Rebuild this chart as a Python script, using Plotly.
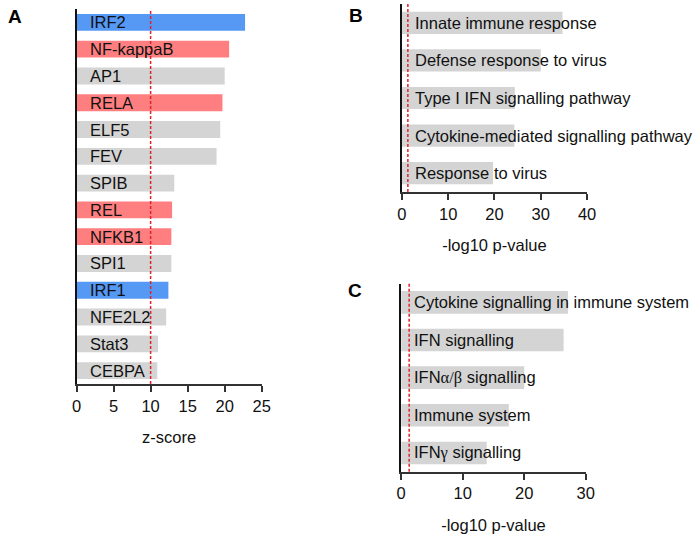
import plotly.graph_objects as go

# ---------------- data ----------------
tf_names = ["IRF2", "NF-kappaB", "AP1", "RELA", "ELF5", "FEV", "SPIB", "REL",
            "NFKB1", "SPI1", "IRF1", "NFE2L2", "Stat3", "CEBPA"]
tf_zscores = [22.75, 20.6, 20.0, 19.7, 19.4, 18.9, 13.2, 12.9, 12.8, 12.8,
              12.4, 12.1, 11.0, 10.9]
tf_groups = ["IRF", "NFkB", "other", "NFkB", "other", "other", "other", "NFkB",
             "NFkB", "other", "IRF", "other", "other", "other"]
z_threshold = 10

go_terms = ["Innate immune response", "Defense response to virus",
            "Type I IFN signalling pathway", "Cytokine-mediated signalling pathway",
            "Response to virus"]
go_values = [34.7, 30.0, 24.4, 24.3, 19.7]

path_terms = ["Cytokine signalling in immune system", "IFN signalling",
              "IFN<span style='font-family:Liberation Serif'>α/β</span> signalling",
              "Immune system",
              "IFN<span style='font-family:Liberation Serif'>γ</span> signalling"]
path_values = [27.1, 26.4, 20.0, 17.5, 13.9]
p_threshold = 1.3

group_colors = {"IRF": "#5599F5", "NFkB": "#FF7F80", "other": "#D4D4D4"}
GRAY = "#D4D4D4"
FONT = "Liberation Sans, Arial, sans-serif"
FS = 16.5
W, H = 696, 535

fig = go.Figure()

fig.add_trace(go.Bar(x=tf_zscores, y=tf_names, orientation="h",
                     marker=dict(color=[group_colors[g] for g in tf_groups], line=dict(width=0)),
                     width=0.63, xaxis="x", yaxis="y", hoverinfo="x+y"))
fig.add_trace(go.Bar(x=go_values, y=go_terms, orientation="h",
                     marker=dict(color=GRAY, line=dict(width=0)),
                     width=0.59, xaxis="x2", yaxis="y2", hoverinfo="x"))
fig.add_trace(go.Bar(x=path_values, y=path_terms, orientation="h",
                     marker=dict(color=GRAY, line=dict(width=0)),
                     width=0.6, xaxis="x3", yaxis="y3", hoverinfo="x"))

def px_x(p):
    return p / W

def px_y(p):
    return 1 - p / H

xcommon = dict(showline=True, linecolor="#333333", linewidth=1.5, ticks="outside",
               ticklen=6, tickwidth=1.5, tickcolor="#333333", showgrid=False,
               zeroline=False, tickfont=dict(family=FONT, size=FS, color="#111111"),
               title_font=dict(family=FONT, size=FS, color="#111111"), title_standoff=18)
ycommon = dict(showline=True, linecolor="#111111", linewidth=1.5, showticklabels=False,
               ticks="", showgrid=False, zeroline=False, type="category")

fig.update_layout(
    xaxis=dict(domain=[px_x(73), px_x(262)], range=[0, 25], dtick=5, anchor="y",
               title_text="z-score", **xcommon),
    yaxis=dict(domain=[px_y(384), px_y(9)], range=[len(tf_names) - 0.5, -0.5],
               anchor="x", categoryorder="array", categoryarray=tf_names, **ycommon),
    xaxis2=dict(domain=[px_x(405), px_x(594)], range=[0, 40], dtick=10, anchor="y2",
                title_text="-log10 p-value", **xcommon),
    yaxis2=dict(domain=[px_y(192), px_y(4)], range=[len(go_terms) - 0.5, -0.5],
                anchor="x2", categoryorder="array", categoryarray=go_terms, **ycommon),
    xaxis3=dict(domain=[px_x(404.3), px_x(592.7)], range=[0, 30], dtick=10, anchor="y3",
                title_text="-log10 p-value", **xcommon),
    yaxis3=dict(domain=[px_y(471.8), px_y(283.5)], range=[len(path_terms) - 0.5, -0.5],
                anchor="x3", categoryorder="array", categoryarray=path_terms, **ycommon),
)

# threshold lines
for xref, yref, val in [("x", "y domain", z_threshold), ("x2", "y2 domain", p_threshold),
                        ("x3", "y3 domain", p_threshold)]:
    fig.add_shape(type="line", xref=xref, yref=yref, x0=val, x1=val, y0=0, y1=1,
                  line=dict(color="#E0202A", width=1.5, dash="3px,2px"), layer="above")

# bar labels
annots = []
for xr, yr, names in [("x", "y", tf_names), ("x2", "y2", go_terms), ("x3", "y3", path_terms)]:
    for n in names:
        annots.append(dict(x=0, y=n, xref=xr, yref=yr, text=n, showarrow=False,
                           xanchor="left", xshift=11, yanchor="middle",
                           font=dict(family=FONT, size=FS, color="#111111")))

# panel letters
for letter, x, y in [("A", 10, 16), ("B", 358, 15), ("C", 357, 290)]:
    annots.append(dict(x=px_x(x), y=px_y(y), xref="paper", yref="paper", text="<b>%s</b>" % letter,
                       showarrow=False, xanchor="center", yanchor="middle",
                       font=dict(family=FONT, size=19, color="#000000")))

fig.update_layout(annotations=annots, width=W, height=H, showlegend=False,
                  margin=dict(l=0, r=0, t=0, b=0), plot_bgcolor="white",
                  paper_bgcolor="white", bargap=0.35)

fig.write_html("out.html", config={"displayModeBar": False},
               post_script="document.body.style.margin='0';document.body.style.overflow='hidden';")
